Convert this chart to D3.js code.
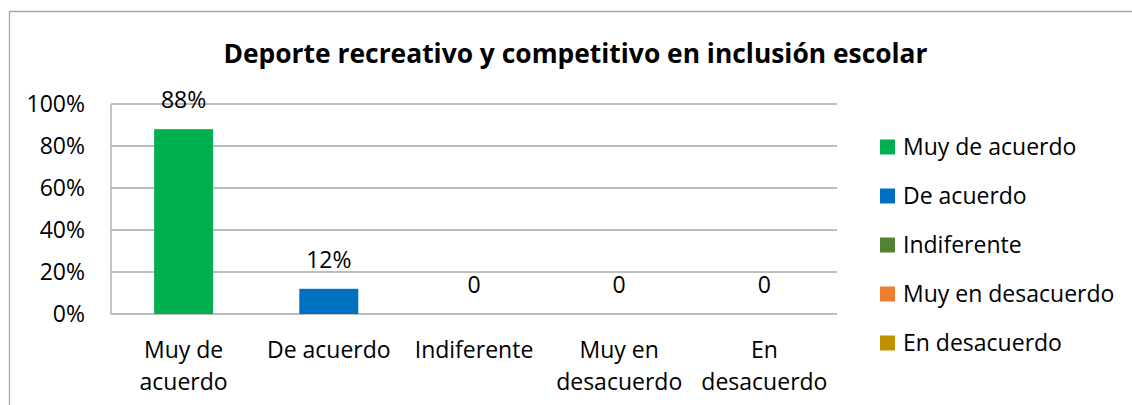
<!DOCTYPE html>
<html>
<head>
<meta charset="utf-8">
<script src="https://cdn.jsdelivr.net/npm/d3@7"></script>
<style>
  body { margin: 0; background: #fff; }
  svg { display: block; font-family: "Open Sans", sans-serif; font-variant-ligatures: none; }
  .grid line { stroke: #a6a6a6; stroke-width: 1.3; }
  .axis path, .axis line { display: none; }
  .axis text { fill: #000; font-size: 23px; font-family: "Open Sans", sans-serif; }
</style>
</head>
<body>
<div class="test"></div>
<script>
var categories = ['Muy de acuerdo', 'De acuerdo', 'Indiferente', 'Muy en desacuerdo', 'En desacuerdo'];
var categoryLines = [['Muy de', 'acuerdo'], ['De acuerdo'], ['Indiferente'], ['Muy en', 'desacuerdo'], ['En', 'desacuerdo']];
var values = [0.88, 0.12, 0, 0, 0];
var valueLabels = ['88%', '12%', '0', '0', '0'];
var colors = ['#00b050', '#0070c0', '#548235', '#ed7d31', '#bf9000'];
var yTicks = [0, 0.2, 0.4, 0.6, 0.8, 1];
var title = 'Deporte recreativo y competitivo en inclusión escolar';

var ww = 1132, hh = 405
  , margin = {top: 104, left: 111}
  , width = 837 - 111
  , height = 314 - 104
  , svgm = d3.select('.test').append('svg').attr('width', ww).attr('height', hh);

// outer frame of the chart, runs off the right and bottom
svgm.append('path')
  .attr('d', 'M9.5,' + hh + 'V11.5H' + ww)
  .attr('fill', 'none').attr('stroke', '#a6a6a6').attr('stroke-width', 1.3);

svgm.append('text')
  .attr('x', 575.5).attr('y', 63)
  .attr('text-anchor', 'middle')
  .style('font-size', '26.4px').style('font-weight', 'bold')
  .text(title);

var x = d3.scaleBand().domain(categories).range([0, width]).paddingInner(0.594).paddingOuter(0.297)
  , y = d3.scaleLinear().domain([0, 1]).range([height, 0]);

var svg = svgm.append('g').attr('transform', `translate(${margin.left},${margin.top})`);

// horizontal grid lines
svg.append('g').attr('class', 'grid')
  .selectAll('line').data(yTicks).enter()
  .append('line')
  .attr('x1', 0).attr('x2', width)
  .attr('y1', d => y(d)).attr('y2', d => y(d));
svg.append('line')
  .attr('x1', 0).attr('x2', 0).attr('y1', 0).attr('y2', height)
  .attr('stroke', '#a6a6a6').attr('stroke-width', 1.3);

var yAxis = d3.axisLeft(y).tickValues(yTicks).tickFormat(d3.format('.0%')).tickSize(0).tickPadding(26);
svg.append('g').attr('class', 'axis').call(yAxis);

svg.selectAll('.bar').data(values).enter()
  .append('rect')
  .attr('class', 'bar')
  .attr('x', (d, i) => x(categories[i]))
  .attr('width', x.bandwidth())
  .attr('y', d => y(d))
  .attr('height', d => height - y(d))
  .attr('fill', (d, i) => colors[i]);

svg.selectAll('.lbl').data(values).enter()
  .append('text')
  .attr('class', 'lbl')
  .attr('x', (d, i) => x(categories[i]) + x.bandwidth() / 2)
  .attr('y', d => y(d) - 21)
  .attr('text-anchor', 'middle')
  .style('font-size', '23px')
  .text((d, i) => valueLabels[i]);

// category labels, wrapped like the original
var step = width / categories.length;
var xl = svg.append('g').selectAll('text').data(categoryLines).enter()
  .append('text')
  .attr('x', (d, i) => step * i + step / 2)
  .attr('y', height + 44)
  .attr('text-anchor', 'middle')
  .style('font-size', '23px');
xl.selectAll('tspan').data(d => d).enter()
  .append('tspan')
  .attr('x', function() { return this.parentNode.getAttribute('x'); })
  .attr('dy', (d, i) => i ? 32 : 0)
  .text(d => d);

// legend
var legend = svgm.append('g').attr('transform', 'translate(880,147)')
  .selectAll('g').data(categories).enter()
  .append('g')
  .attr('transform', (d, i) => `translate(0,${i * 49})`);
legend.append('rect')
  .attr('x', 0).attr('y', -7.5).attr('width', 15).attr('height', 15)
  .attr('fill', (d, i) => colors[i]);
legend.append('text')
  .attr('x', 23).attr('y', 8)
  .style('font-size', '23px')
  .text(d => d);
</script>
</body>
</html>
